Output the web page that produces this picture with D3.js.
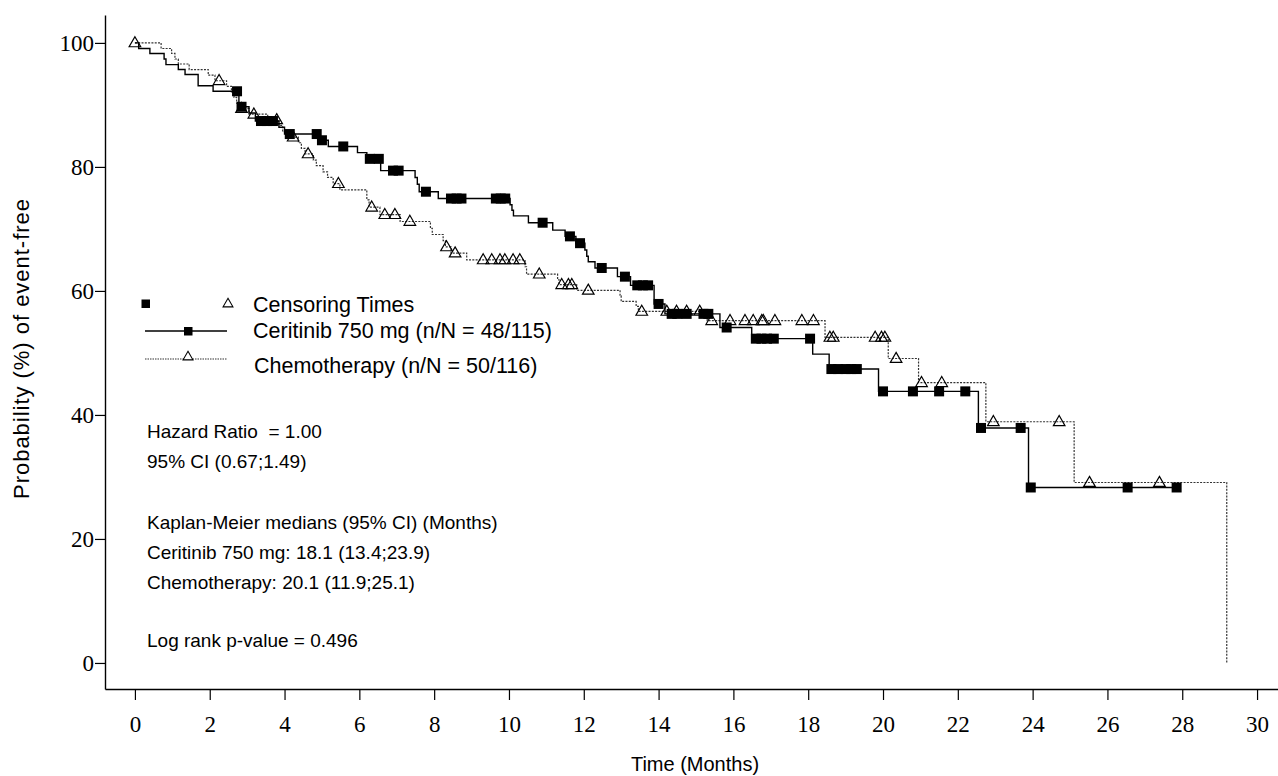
<!DOCTYPE html>
<html><head><meta charset="utf-8">
<script src="https://cdn.jsdelivr.net/npm/d3@7"></script>
<style>body{margin:0;background:#fff}svg{display:block}text{white-space:pre}</style>
</head><body><svg id="chart" width="1278" height="776"></svg>
<script>
// ---- data ----
const ceritinibEventTimes = [0.10,0.40,0.78,0.83,1.16,1.34,1.69,2.09,2.78,3.05,3.22,3.85,4.00,4.95,5.17,5.95,6.20,6.57,7.49,7.55,7.60,8.11,10.03,10.08,10.12,10.52,11.17,11.50,11.79,12.03,12.08,12.12,12.30,12.90,13.25,13.88,14.17,15.64,16.49,18.12,18.56,19.88,22.55,23.89];
const ceritinibSurvival   = [99.1,98.3,97.4,96.5,95.7,94.9,93.1,92.2,89.7,88.7,87.4,86.4,85.3,84.3,83.3,82.3,81.3,79.4,78.3,77.2,76.0,74.9,73.9,73.0,72.1,71.0,69.8,68.8,67.7,66.6,65.6,64.7,63.7,62.3,60.9,57.9,56.3,54.1,52.3,49.8,47.4,43.8,37.9,28.3];
const ceritinibCensorTimes = [2.73,2.85,3.37,3.53,3.69,4.14,4.86,5.00,5.57,6.28,6.52,6.90,7.05,7.78,8.45,8.60,8.73,9.65,9.78,9.90,10.90,11.63,11.90,12.48,13.10,13.43,13.58,13.72,14.00,14.35,14.50,14.75,15.20,15.33,15.82,16.60,16.75,16.90,17.08,18.05,18.62,18.80,19.00,19.15,19.30,20.00,20.80,21.50,22.20,22.62,23.68,23.95,26.54,27.85];
const ceritinibEnd = 27.85;

const chemoEventTimes = [0.70,0.98,1.07,1.16,1.45,1.96,2.14,2.45,2.58,2.65,2.72,2.78,3.05,3.55,3.85,3.95,4.10,4.37,4.45,4.55,4.77,4.85,5.03,5.15,5.30,5.48,6.20,6.26,6.55,7.09,7.90,7.95,8.24,8.30,8.45,8.87,10.43,10.47,11.30,11.34,11.81,12.97,13.00,13.40,13.46,15.30,18.45,20.14,20.95,22.75,25.11,29.19];
const chemoSurvival   = [99.1,98.3,97.4,96.6,95.7,94.8,93.9,93.0,92.1,91.2,90.3,89.4,88.5,87.6,86.7,85.7,84.8,83.9,83.0,82.1,81.1,80.2,79.2,78.3,77.3,76.3,74.7,73.5,72.3,71.2,70.1,69.1,68.1,67.1,66.1,65.0,63.9,62.7,61.8,61.0,60.1,59.2,58.3,57.5,56.7,55.2,52.5,49.1,45.2,38.9,29.1,0];
const chemoCensorTimes = [0,2.25,2.85,3.18,3.79,4.23,4.63,5.44,6.33,6.68,6.95,7.35,8.33,8.56,9.31,9.54,9.76,9.89,10.11,10.29,10.81,11.41,11.59,11.68,12.12,13.55,14.22,14.48,14.75,15.10,15.42,15.91,16.31,16.53,16.76,16.80,17.11,17.83,18.14,18.58,18.67,19.79,19.96,20.05,20.35,21.03,21.57,22.95,24.71,25.52,27.39];
const chemoEnd = 29.19;

const xTicks = [0,2,4,6,8,10,12,14,16,18,20,22,24,26,28,30];
const yTicks = [0,20,40,60,80,100];

const legendLabels = ["Censoring Times","Ceritinib 750 mg (n/N = 48/115)","Chemotherapy (n/N = 50/116)"];
const statLines = [
  "Hazard Ratio  = 1.00",
  "95% CI (0.67;1.49)",
  "Kaplan-Meier medians (95% CI) (Months)",
  "Ceritinib 750 mg: 18.1 (13.4;23.9)",
  "Chemotherapy: 20.1 (11.9;25.1)",
  "Log rank p-value = 0.496"
];

// ---- layout (pixel styling, not data) ----
const legendLayout = [ {x:253, y:312}, {x:253, y:338}, {x:254, y:373} ];
const statLayout = [438, 468, 529, 559, 589, 647];

// ---- drawing ----
const svg = d3.select("#chart");
const x = d3.scaleLinear().domain([-0.8, 30.56]).range([105, 1278]);
const y = d3.scaleLinear().domain([-4.2, 104.5]).range([689, 15]);

function stepPoints(times, surv, end) {
  const pts = [[0,100]];
  times.forEach((t,i)=>pts.push([t, surv[i]]));
  const last = pts[pts.length-1];
  if (end > last[0]) pts.push([end, last[1]]);
  return pts;
}
function survAt(times, surv, t) {
  let s = 100;
  for (let i=0;i<times.length;i++) { if (times[i] <= t) s = surv[i]; }
  return s;
}
const line = d3.line().x(d=>x(d[0])).y(d=>y(d[1])).curve(d3.curveStepAfter);

// axes
const gy = svg.append("g").attr("transform","translate(105,0)")
  .call(d3.axisLeft(y).tickValues(yTicks).tickSize(10).tickSizeOuter(0).tickPadding(1));
const gx = svg.append("g").attr("transform","translate(0,689)")
  .call(d3.axisBottom(x).tickValues(xTicks).tickSize(11).tickSizeOuter(0).tickPadding(16));
[gx, gy].forEach(g=>{
  g.select(".domain").attr("stroke","#000").attr("stroke-width",1.4);
  g.selectAll(".tick line").attr("stroke","#000").attr("stroke-width",1.2);
  g.selectAll(".tick text").attr("fill","#000")
    .style("font-family","'Liberation Serif','Times New Roman',serif").style("font-size","23px");
});

const lf = "'Liberation Sans',Arial,sans-serif";
// axis titles
svg.append("text").attr("x",695).attr("y",771).attr("text-anchor","middle")
  .style("font-family",lf).style("font-size","20px").text("Time (Months)");
svg.append("text").attr("transform","translate(29,349) rotate(-90)").attr("text-anchor","middle")
  .attr("textLength",300).attr("lengthAdjust","spacing")
  .style("font-family",lf).style("font-size","22px").text("Probability (%) of event-free");

// curves
const plot = svg.append("g");
plot.append("path").attr("d", line(stepPoints(chemoEventTimes, chemoSurvival, chemoEnd)))
  .attr("fill","none").attr("stroke","#333").attr("stroke-width",1.2).attr("stroke-dasharray","2,1.3");
plot.append("path").attr("d", line(stepPoints(ceritinibEventTimes, ceritinibSurvival, ceritinibEnd)))
  .attr("fill","none").attr("stroke","#000").attr("stroke-width",1.4);

// markers
const sq = 10;
plot.selectAll("rect.cens").data(ceritinibCensorTimes).join("rect").attr("class","cens")
  .attr("x", d=>x(d)-sq/2).attr("y", d=>y(survAt(ceritinibEventTimes, ceritinibSurvival, d))-sq/2)
  .attr("width",sq).attr("height",sq).attr("fill","#000");
const tri = d3.symbol().type(d3.symbolTriangle).size(58);
plot.selectAll("path.tri").data(chemoCensorTimes).join("path").attr("class","tri")
  .attr("d", tri)
  .attr("transform", d=>`translate(${x(d)},${y(survAt(chemoEventTimes, chemoSurvival, d))+0.5})`)
  .attr("fill","none").attr("stroke","#000").attr("stroke-width",1.2);

// legend
const leg = svg.append("g");
leg.append("rect").attr("x",141.5).attr("y",299.5).attr("width",8.5).attr("height",8.5).attr("fill","#000");
leg.append("path").attr("d", d3.symbol().type(d3.symbolTriangle).size(42)).attr("transform","translate(228,304)")
  .attr("fill","none").attr("stroke","#000").attr("stroke-width",1.1);
leg.append("line").attr("x1",145).attr("x2",227).attr("y1",331).attr("y2",331).attr("stroke","#000").attr("stroke-width",1.3);
leg.append("rect").attr("x",184).attr("y",327).attr("width",8.5).attr("height",8.5).attr("fill","#000");
leg.append("line").attr("x1",145).attr("x2",227).attr("y1",359).attr("y2",359).attr("stroke","#333").attr("stroke-width",1.1).attr("stroke-dasharray","1.5,1");
leg.append("path").attr("d", d3.symbol().type(d3.symbolTriangle).size(42)).attr("transform","translate(188,357)")
  .attr("fill","#fff").attr("stroke","#000").attr("stroke-width",1.1);
leg.selectAll("text").data(legendLabels).join("text")
  .attr("x",(d,i)=>legendLayout[i].x).attr("y",(d,i)=>legendLayout[i].y)
  .style("font-family",lf).style("font-size","21.5px").text(d=>d);

// stats text
svg.append("g").selectAll("text").data(statLines).join("text")
  .attr("x",147).attr("y",(d,i)=>statLayout[i])
  .style("font-family",lf).style("font-size","19px").text(d=>d);
</script></body></html>
